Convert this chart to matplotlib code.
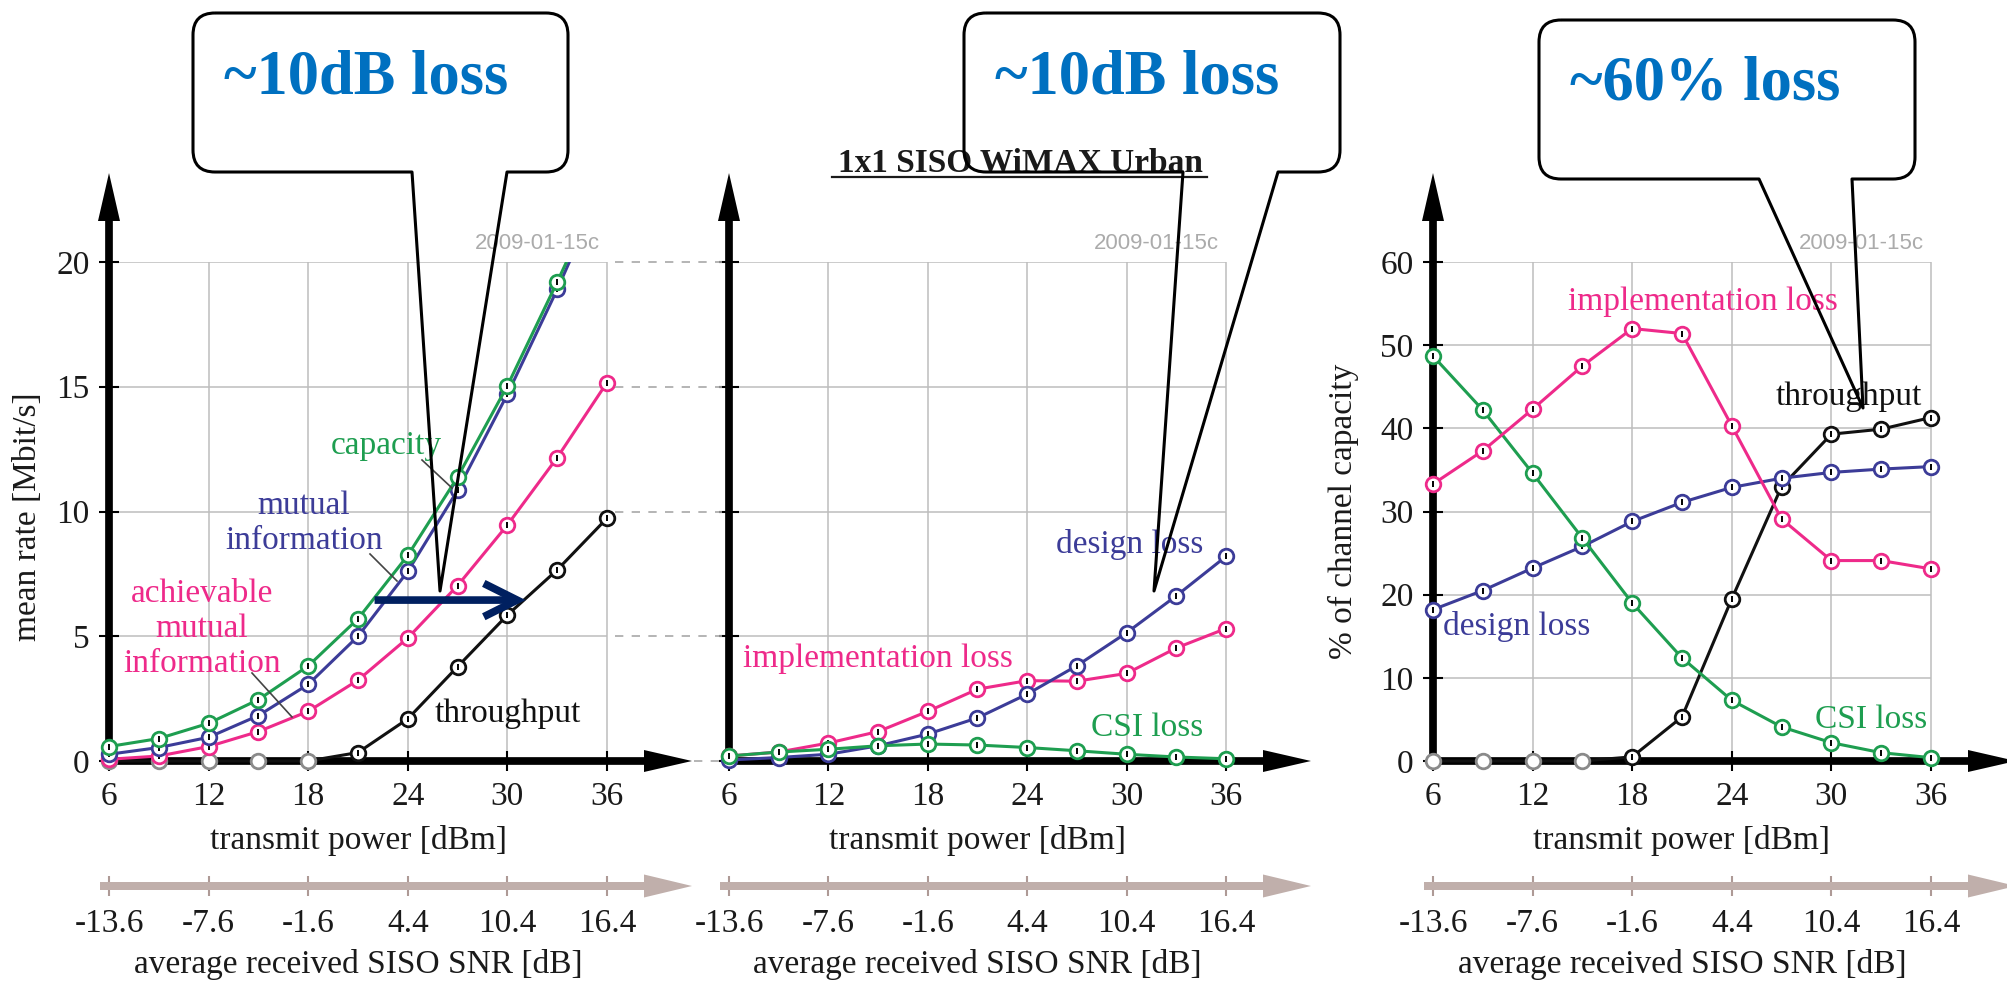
import matplotlib
matplotlib.use('Agg')
import matplotlib.pyplot as plt
from matplotlib.transforms import Affine2D
from matplotlib.patches import Polygon, PathPatch
from matplotlib.path import Path
from matplotlib.lines import Line2D
import numpy as np

W, H = 2008, 981

tx_power = [6, 9, 12, 15, 18, 21, 24, 27, 30, 33, 36]
tx_ticks = [6, 12, 18, 24, 30, 36]
snr_labels = ['-13.6', '-7.6', '-1.6', '4.4', '10.4', '16.4']

# panel 1: mean rate [Mbit/s]
capacity = [0.58, 0.90, 1.51, 2.46, 3.81, 5.70, 8.24, 11.38, 15.04, 19.20, 23.5]
mutual_info = [0.27, 0.54, 0.95, 1.82, 3.07, 5.00, 7.60, 10.85, 14.70, 18.90, 23.4]
achievable_mi = [0.07, 0.20, 0.58, 1.18, 1.99, 3.24, 4.93, 7.03, 9.46, 12.16, 15.17]
throughput = [0, 0, 0, 0, 0, 0.34, 1.69, 3.78, 5.85, 7.66, 9.73]

# panel 2: losses [Mbit/s]
design_loss = [0.04, 0.14, 0.27, 0.61, 1.08, 1.73, 2.68, 3.82, 5.14, 6.62, 8.20]
impl_loss = [0.20, 0.36, 0.72, 1.18, 1.99, 2.88, 3.22, 3.20, 3.51, 4.53, 5.31]
csi_loss = [0.20, 0.36, 0.47, 0.61, 0.68, 0.64, 0.54, 0.41, 0.27, 0.16, 0.09]

# panel 3: % of channel capacity
design_pct = [18.2, 20.5, 23.2, 25.8, 28.8, 31.1, 32.9, 34.0, 34.7, 35.1, 35.4]
impl_pct = [33.3, 37.3, 42.3, 47.5, 52.0, 51.4, 40.3, 29.1, 24.1, 24.1, 23.1]
csi_pct = [48.7, 42.2, 34.6, 26.8, 19.0, 12.4, 7.3, 4.1, 2.2, 1.0, 0.4]
thr_pct = [0, 0, 0, 0, 0.5, 5.3, 19.5, 33.0, 39.3, 39.9, 41.3]

GREEN = '#1E9E50'
BLUE = '#3C3C98'
PINK = '#EE2A8A'
BLACK = '#111111'
NAVY = '#002060'
CALLOUT = '#0070C0'
SNR_C = '#C0AFAB'
TXT = '#1a1a1a'

plt.rcParams['font.family'] = ['Liberation Serif', 'DejaVu Serif']
plt.rcParams['axes.unicode_minus'] = False

fig = plt.figure(figsize=(W / 100, H / 100), dpi=100)
pix = Affine2D().scale(1 / W, -1 / H).translate(0, 1) + fig.transFigure

Y0 = 761      # pixel row of value 0
YTOP = 262    # pixel row of top gridline
SNR_Y = 886


def arrow(ax, x0, y0, x1, y1, lw_px, head_len, head_w, color, z=3):
    d = np.hypot(x1 - x0, y1 - y0)
    ux, uy = (x1 - x0) / d, (y1 - y0) / d
    bx, by = x1 - ux * head_len, y1 - uy * head_len
    nx, ny = -uy, ux
    ax.add_line(Line2D([x0, bx + ux], [y0, by + uy], lw=lw_px * 0.72, color=color,
                       transform=pix, solid_capstyle='butt', clip_on=False, zorder=z))
    ax.add_patch(Polygon([[bx + nx * head_w / 2, by + ny * head_w / 2], [x1, y1],
                          [bx - nx * head_w / 2, by - ny * head_w / 2]], closed=True,
                         fc=color, ec='none', transform=pix, clip_on=False, zorder=z))


def make_panel(x6, x36, ymax, yticks, ylo, xlim=(4.5, 40)):
    sx = (x36 - x6) / 30
    sy = (Y0 - YTOP) / ymax
    left = x6 - (6 - xlim[0]) * sx
    right = x36 + (xlim[1] - 36) * sx
    bottom = Y0 + (-ylo) * sy
    ax = fig.add_axes([left / W, 1 - bottom / H, (right - left) / W, (bottom - YTOP) / H])
    ax.set_xlim(xlim)
    ax.set_ylim(ylo, ymax)
    ax.patch.set_visible(False)
    for s in ['top', 'right']:
        ax.spines[s].set_visible(False)
    ax.spines['bottom'].set_position(('data', 0))
    ax.spines['left'].set_position(('data', 6))
    ax.spines['bottom'].set_color('none')
    ax.spines['left'].set_color('none')
    # grid
    ax.vlines(tx_ticks[1:], 0, ymax, color='#BDBDBD', lw=1.1, zorder=1)
    ax.hlines(yticks[1:], 6, 36, color='#BDBDBD', lw=1.1, zorder=1)
    ax.set_xticks(tx_ticks)
    ax.set_yticks(yticks)
    ax.tick_params(direction='inout', length=14, width=1.5, color='black',
                   labelsize=24, labelcolor=TXT)
    ax.tick_params(axis='x', pad=8)
    ax.tick_params(axis='y', pad=7)
    # thick axes with arrow heads
    arrow(ax, x6, Y0 + 4, x6, 173, 7.7, 48, 22, 'black')
    arrow(ax, x6 - 4, Y0, x36 + 85, Y0, 7.7, 48, 22, 'black')
    # SNR axis
    arrow(ax, x6 - 9, SNR_Y, x36 + 85, SNR_Y, 8, 48, 23, SNR_C, z=1)
    loc = (bottom - SNR_Y) / (bottom - YTOP)
    sec = ax.secondary_xaxis(loc, functions=(lambda v: v - 19.6, lambda v: v + 19.6))
    sec.set_xticks([float(s) for s in snr_labels], labels=snr_labels)
    sec.spines['bottom'].set_visible(False)
    sec.tick_params(direction='inout', length=14, width=1.5, color='#AE9A96',
                    labelsize=24, labelcolor=TXT, pad=9)
    # axis labels
    fig.text((x6 + x36) / 2 / W, 1 - 840 / H, 'transmit power [dBm]', ha='center',
             va='center', fontsize=24, color=TXT)
    fig.text((x6 + x36) / 2 / W, 1 - 965 / H, 'average received SISO SNR [dB]',
             ha='center', va='center', fontsize=24, color=TXT)
    fig.text((x36 - 7) / W, 1 - 249 / H, '2009-01-15c', ha='right', va='baseline',
             fontsize=16, color='#ABABAB', family='Liberation Sans')
    return ax


def curve(ax, y, color, z, gray_zero=False):
    ax.plot(tx_power, y, '-', color=color, lw=2.2, zorder=z)
    xs = [x for x, v in zip(tx_power, y) if not (gray_zero and v == 0)]
    ys = [v for v in y if not (gray_zero and v == 0)]
    ax.plot(xs, ys, 'o', ms=10.5, mfc='white', mec=color, mew=2, zorder=z + 0.1)
    ax.plot(xs, ys, '|', ms=4.5, mec='black', mew=1.4, zorder=z + 0.2)
    if gray_zero:
        xz = [x for x, v in zip(tx_power, y) if v == 0]
        ax.plot(xz, [0] * len(xz), 'o', ms=10.5, mfc='white', mec='#8a8a8a', mew=2,
                zorder=z + 0.1)


def label(txt, x, y, color, **kw):
    fig.text(x / W, 1 - y / H, txt, ha='center', va='center', fontsize=24, color=color, **kw)


# ---- panel 1 ----
ax1 = make_panel(109, 607, 20, [0, 5, 10, 15, 20], -1.5)
ax1.set_ylabel('mean rate [Mbit/s]', fontsize=24, color=TXT)
ax1.yaxis.set_label_coords(28, 517, transform=pix)
ax1.yaxis.label.set_va('center')
curve(ax1, throughput, BLACK, 4, gray_zero=True)
curve(ax1, achievable_mi, PINK, 5)
curve(ax1, mutual_info, BLUE, 6)
curve(ax1, capacity, GREEN, 7)
ax1.annotate('', xy=(31.1, 6.45), xytext=(22.0, 6.45),
             arrowprops=dict(arrowstyle='->,head_length=1.2,head_width=0.6', lw=5.5,
                             color=NAVY, mutation_scale=20, shrinkA=0, shrinkB=0,
                             capstyle='butt', joinstyle='miter'), zorder=8)
label('capacity', 386, 446, GREEN)
label('mutual\ninformation', 304, 523, BLUE)
label('achievable\nmutual\ninformation', 202, 629, PINK)
label('throughput', 508, 714, BLACK)
for (xa, ya, xb, yb) in [(422, 460, 452, 488), (370, 554, 397, 581), (252, 673, 292, 717)]:
    fig.add_artist(Line2D([xa, xb], [ya, yb], transform=pix, color='#444444', lw=1.2))

# dashed connectors between panel 1 and panel 2
for lev in [5, 10, 15, 20]:
    yy = Y0 - lev * (Y0 - YTOP) / 20
    fig.add_artist(Line2D([615, 722], [yy, yy], transform=pix, color='#A8A8A8', lw=1.2,
                          dashes=(5, 5)))
fig.add_artist(Line2D([694, 722], [Y0, Y0], transform=pix, color='#A8A8A8', lw=1.2,
                      dashes=(5, 5)))

# ---- panel 2 ----
ax2 = make_panel(729, 1226, 20, [0, 5, 10, 15, 20], -1.5)
ax2.tick_params(axis='y', labelleft=False)
curve(ax2, impl_loss, PINK, 4)
curve(ax2, design_loss, BLUE, 5)
curve(ax2, csi_loss, GREEN, 6)
label('design loss', 1130, 544, BLUE)
label('implementation loss', 878, 659, PINK)
label('CSI loss', 1147, 728, GREEN)
fig.text(1020 / W, 1 - 163 / H, '1x1 SISO WiMAX Urban', ha='center', va='center',
         fontsize=24, fontweight='bold', color=TXT, zorder=10)
fig.add_artist(Line2D([832, 1207], [177, 177], transform=pix, color=TXT, lw=1.6))

# ---- panel 3 ----
ax3 = make_panel(1433, 1931, 60, [0, 10, 20, 30, 40, 50, 60], -4.5)
ax3.set_ylabel('% of channel capacity', fontsize=24, color=TXT)
ax3.yaxis.set_label_coords(1343, 511, transform=pix)
ax3.yaxis.label.set_va('center')
curve(ax3, thr_pct, BLACK, 4, gray_zero=True)
curve(ax3, design_pct, BLUE, 5)
curve(ax3, csi_pct, GREEN, 6)
curve(ax3, impl_pct, PINK, 7)
label('implementation loss', 1703, 302, PINK)
label('throughput', 1849, 397, BLACK)
label('design loss', 1517, 627, BLUE)
label('CSI loss', 1871, 720, GREEN)


# ---- callouts ----
def callout(x0, y0, x1, y1, pl, pr, tip, r=22):
    verts = [(x0 + r, y0), (x1 - r, y0), (x1, y0), (x1, y0 + r), (x1, y1 - r), (x1, y1),
             (x1 - r, y1), (pr, y1), tip, (pl, y1), (x0 + r, y1), (x0, y1), (x0, y1 - r),
             (x0, y0 + r), (x0, y0), (x0 + r, y0)]
    codes = [Path.MOVETO, Path.LINETO, Path.CURVE3, Path.CURVE3, Path.LINETO, Path.CURVE3,
             Path.CURVE3, Path.LINETO, Path.LINETO, Path.LINETO, Path.LINETO, Path.CURVE3,
             Path.CURVE3, Path.LINETO, Path.CURVE3, Path.CURVE3]
    fig.add_artist(PathPatch(Path(verts, codes), transform=pix, fc='none', ec='black',
                             lw=2.2, joinstyle='round', zorder=20))


callout(193, 13, 568, 172, 412, 507, (440, 591))
callout(964, 13, 1340, 172, 1183, 1278, (1154, 591))
callout(1539, 20, 1915, 179, 1759, 1852, (1863, 408))
for txt, x, y in [('~10dB loss', 366, 93), ('~10dB loss', 1137, 93), ('~60% loss', 1705, 100)]:
    fig.text(x / W, 1 - y / H, txt, ha='center', va='baseline', fontsize=45,
             fontweight='bold', color=CALLOUT, zorder=21)

fig.savefig('out.png', dpi=100)
